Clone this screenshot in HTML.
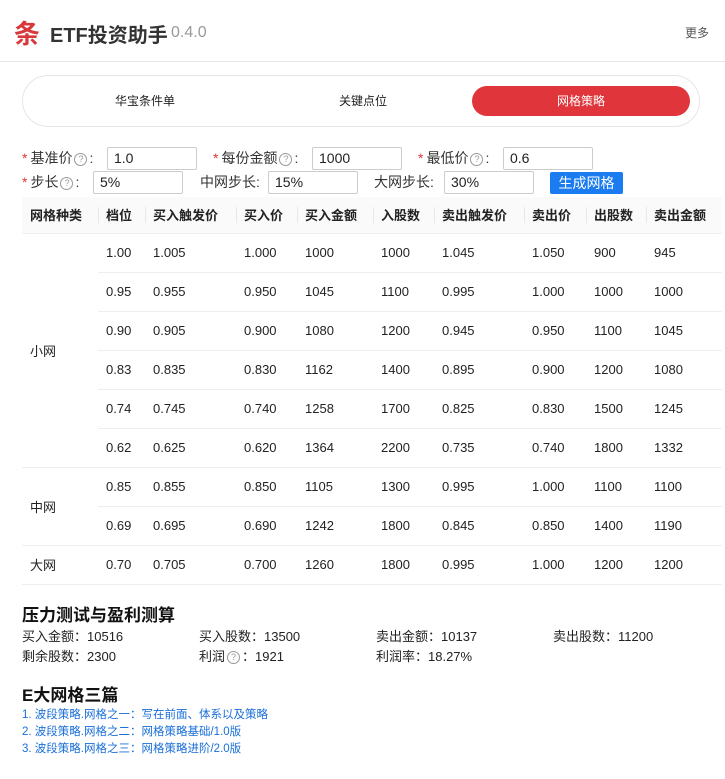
<!DOCTYPE html>
<html><head><meta charset="utf-8">
<style>
*{box-sizing:border-box;margin:0;padding:0}
body{width:725px;height:779px;background:#fff;font-family:"Liberation Sans","Noto Sans CJK SC",sans-serif;color:#222;position:relative;overflow:hidden}
.abs{position:absolute}
.hdr{left:0;top:0;width:725px;height:62px;border-bottom:1px solid #e5e5e5}
.logo{left:14px;top:14px;font-size:26px;font-weight:bold;color:#d9383a}
.title{left:50px;top:19px;font-size:20px;font-weight:bold;color:#333}
.ver{left:171px;top:25px;font-size:16px;color:#999;line-height:16px}
.more{left:685px;top:24px;font-size:12px;color:#555}
.seg{left:22px;top:75px;width:678px;height:52px;border:1px solid #e6e6e6;border-radius:26px}
.tab{position:absolute;top:86px;height:30px;line-height:30px;text-align:center;font-size:12px;color:#222;width:218px}
.tab.on{background:#e0353a;color:#fff;border-radius:15px}
.lbl{font-size:14px;color:#333;height:23px;line-height:23px}
.req{color:#e0353a;margin-right:3px}
.q{display:inline-block;width:13px;height:13px;border:1px solid #999;border-radius:50%;font-size:9px;line-height:11px;text-align:center;color:#999;vertical-align:1px;margin:0 2px}
.inp{height:23px;border:1px solid #ccc;border-radius:2px;font-size:14px;line-height:21px;padding-left:6px;width:90px}
.btn{left:550px;top:172px;width:73px;height:22px;background:#1a7cf0;color:#fff;font-size:14px;line-height:22px;text-align:center;border-radius:2px}
table{position:absolute;left:22px;top:197px;border-collapse:collapse;width:700px;font-size:13px;table-layout:fixed}
th{background:#fafafa;height:36px;text-align:left;padding-left:8px;font-weight:bold;position:relative;border-bottom:1px solid #eee}
th+th:before{content:"";position:absolute;left:0;top:10px;height:16px;border-left:1px solid #e8e8e8}
td{height:39px;padding-left:8px;border-bottom:1px solid #eee}
h3{position:absolute;left:22px;font-size:17px;font-weight:bold;color:#111}
.st{position:absolute;font-size:13px;color:#222}
.lk{position:absolute;left:22px;font-size:11.5px;color:#1a6fd9}
</style></head><body>
<div class="abs hdr"></div>
<div class="abs logo">条</div>
<div class="abs title">ETF投资助手</div>
<div class="abs ver">0.4.0</div>
<div class="abs more">更多</div>
<div class="abs seg"></div>
<div class="tab" style="left:36px">华宝条件单</div>
<div class="tab" style="left:254px">关键点位</div>
<div class="tab on" style="left:472px">网格策略</div>

<div class="abs lbl" style="left:22px;top:147px"><span class="req">*</span>基准价<span class="q">?</span>:</div>
<div class="abs inp" style="left:107px;top:147px">1.0</div>
<div class="abs lbl" style="left:213px;top:147px"><span class="req">*</span>每份金额<span class="q">?</span>:</div>
<div class="abs inp" style="left:312px;top:147px">1000</div>
<div class="abs lbl" style="left:418px;top:147px"><span class="req">*</span>最低价<span class="q">?</span>:</div>
<div class="abs inp" style="left:503px;top:147px">0.6</div>
<div class="abs lbl" style="left:22px;top:171px"><span class="req">*</span>步长<span class="q">?</span>:</div>
<div class="abs inp" style="left:93px;top:171px">5%</div>
<div class="abs lbl" style="left:200px;top:171px">中网步长:</div>
<div class="abs inp" style="left:268px;top:171px">15%</div>
<div class="abs lbl" style="left:374px;top:171px">大网步长:</div>
<div class="abs inp" style="left:444px;top:171px">30%</div>
<div class="abs btn">生成网格</div>

<table>
<colgroup><col style="width:76px"><col style="width:47px"><col style="width:91px"><col style="width:61px"><col style="width:76px"><col style="width:61px"><col style="width:90px"><col style="width:62px"><col style="width:60px"><col style="width:76px"></colgroup>
<tr><th>网格种类</th><th>档位</th><th>买入触发价</th><th>买入价</th><th>买入金额</th><th>入股数</th><th>卖出触发价</th><th>卖出价</th><th>出股数</th><th>卖出金额</th></tr>
<tr><td rowspan="6">小网</td><td>1.00</td><td>1.005</td><td>1.000</td><td>1000</td><td>1000</td><td>1.045</td><td>1.050</td><td>900</td><td>945</td></tr>
<tr><td>0.95</td><td>0.955</td><td>0.950</td><td>1045</td><td>1100</td><td>0.995</td><td>1.000</td><td>1000</td><td>1000</td></tr>
<tr><td>0.90</td><td>0.905</td><td>0.900</td><td>1080</td><td>1200</td><td>0.945</td><td>0.950</td><td>1100</td><td>1045</td></tr>
<tr><td>0.83</td><td>0.835</td><td>0.830</td><td>1162</td><td>1400</td><td>0.895</td><td>0.900</td><td>1200</td><td>1080</td></tr>
<tr><td>0.74</td><td>0.745</td><td>0.740</td><td>1258</td><td>1700</td><td>0.825</td><td>0.830</td><td>1500</td><td>1245</td></tr>
<tr><td>0.62</td><td>0.625</td><td>0.620</td><td>1364</td><td>2200</td><td>0.735</td><td>0.740</td><td>1800</td><td>1332</td></tr>
<tr><td rowspan="2">中网</td><td>0.85</td><td>0.855</td><td>0.850</td><td>1105</td><td>1300</td><td>0.995</td><td>1.000</td><td>1100</td><td>1100</td></tr>
<tr><td>0.69</td><td>0.695</td><td>0.690</td><td>1242</td><td>1800</td><td>0.845</td><td>0.850</td><td>1400</td><td>1190</td></tr>
<tr><td>大网</td><td>0.70</td><td>0.705</td><td>0.700</td><td>1260</td><td>1800</td><td>0.995</td><td>1.000</td><td>1200</td><td>1200</td></tr>
</table>

<h3 style="top:601px">压力测试与盈利测算</h3>
<div class="st" style="left:22px;top:626px">买入金额：10516</div>
<div class="st" style="left:199px;top:626px">买入股数：13500</div>
<div class="st" style="left:376px;top:626px">卖出金额：10137</div>
<div class="st" style="left:553px;top:626px">卖出股数：11200</div>
<div class="st" style="left:22px;top:646px">剩余股数：2300</div>
<div class="st" style="left:199px;top:646px">利润<span class="q">?</span>：1921</div>
<div class="st" style="left:376px;top:646px">利润率：18.27%</div>

<h3 style="top:681px">E大网格三篇</h3>
<div class="lk" style="top:706px">1. 波段策略.网格之一：写在前面、体系以及策略</div>
<div class="lk" style="top:723px">2. 波段策略.网格之二：网格策略基础/1.0版</div>
<div class="lk" style="top:740px">3. 波段策略.网格之三：网格策略进阶/2.0版</div>
</body></html>
